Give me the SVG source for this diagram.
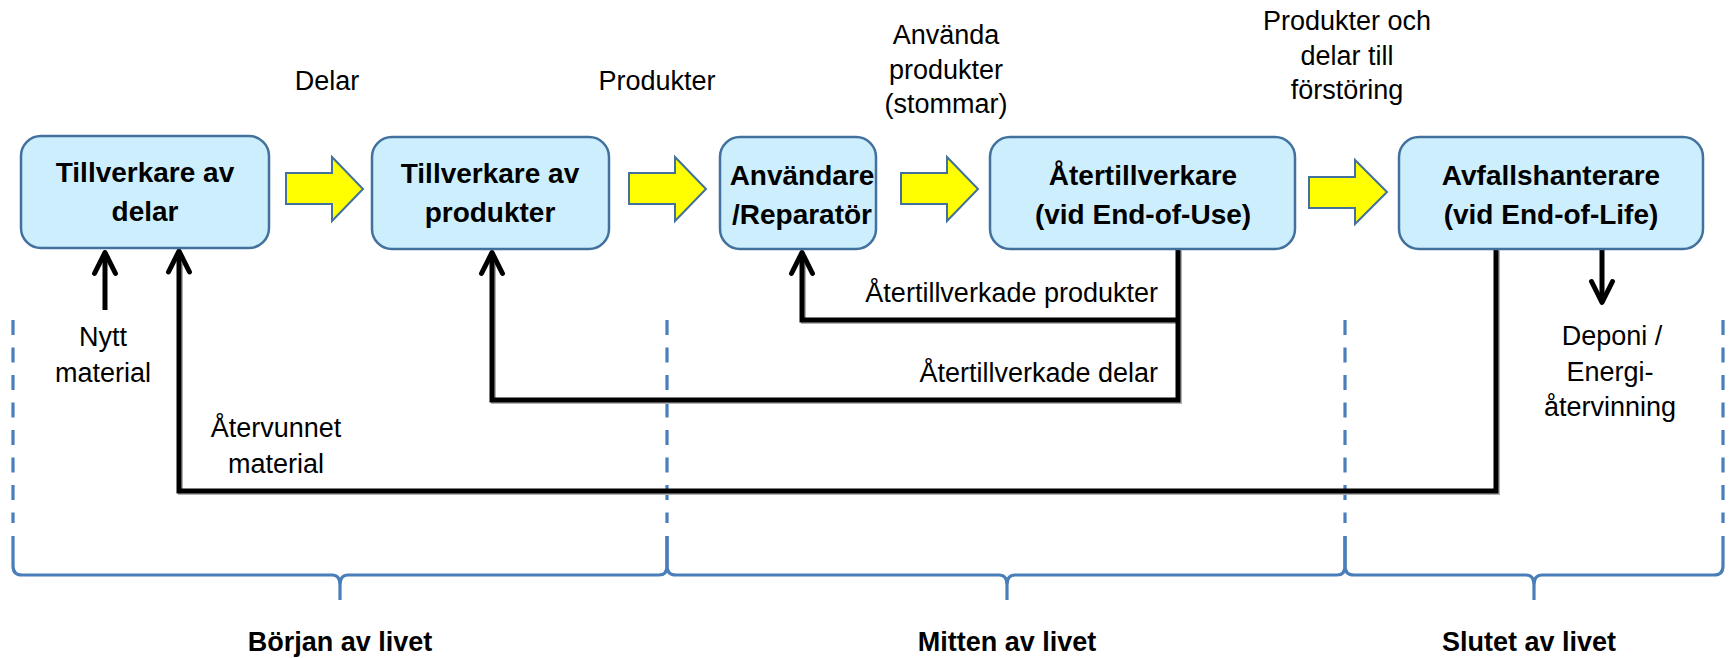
<svg xmlns="http://www.w3.org/2000/svg" width="1729" height="658" viewBox="0 0 1729 658">
<style>
  .box { fill: #CDEFFD; stroke: #41719C; stroke-width: 2.5; }
  .blk { fill: #FFFF00; stroke: #41719C; stroke-width: 2; stroke-linejoin: miter; }
  .bt { font-family: "Liberation Sans", Arial, sans-serif; font-weight: bold; font-size: 28px; fill: #000; text-anchor: middle; }
  .lt { font-family: "Liberation Sans", Arial, sans-serif; font-size: 27px; fill: #000; text-anchor: middle; }
  .ph { font-family: "Liberation Sans", Arial, sans-serif; font-weight: bold; font-size: 27px; fill: #000; text-anchor: middle; }
  .con { fill: none; stroke: #000; stroke-width: 5; stroke-linejoin: miter; }
  .shd { fill: none; stroke: #B0B0B0; stroke-width: 5; stroke-linejoin: miter; }
  .dash { fill: none; stroke: #4A7EBB; stroke-width: 3.2; stroke-dasharray: 15 12.5; }
  .brace { fill: none; stroke: #4A7EBB; stroke-width: 3.2; }
</style>
<defs>
  <marker id="chev" markerUnits="userSpaceOnUse" markerWidth="40" markerHeight="40" refX="0" refY="0" viewBox="-30 -20 40 40" orient="auto" overflow="visible">
    <path d="M-21,-10.5 L0,0 L-21,10.5" fill="none" stroke="#000" stroke-width="5" stroke-linejoin="round" stroke-linecap="round"/>
  </marker>
</defs>
<rect width="1729" height="658" fill="#FFFFFF"/>

<!-- phase separators -->
<g id="phases">
  <path class="dash" d="M13,320 V523 M667,320 V523 M1345,320 V523 M1723,320 V523"/>
  <path class="brace" d="M13,536 V566 Q13,575 22,575 H332 Q340,575 340,585 V600 M340,585 Q340,575 348,575 H659 Q667,575 667,566 V536"/>
  <path class="brace" d="M667,536 V566 Q667,575 676,575 H999 Q1007,575 1007,585 V600 M1007,585 Q1007,575 1015,575 H1337 Q1345,575 1345,566 V536"/>
  <path class="brace" d="M1345,536 V566 Q1345,575 1354,575 H1526 Q1534,575 1534,585 V600 M1534,585 Q1534,575 1542,575 H1714 Q1723,575 1723,566 V536"/>
  <text class="ph" x="340" y="651">Början av livet</text>
  <text class="ph" x="1007" y="651">Mitten av livet</text>
  <text class="ph" x="1529" y="651">Slutet av livet</text>
</g>

<!-- connectors -->
<g id="connectors">
  <g transform="translate(1.5,1.5)">
    <path class="shd" d="M1496,249 V491 H179 V262"/>
    <path class="shd" d="M1178,249 V400 H492 V262"/>
    <path class="shd" d="M1178,320 H802 V262"/>
  </g>
  <path class="con" d="M105,310 V252.5" marker-end="url(#chev)"/>
  <path class="con" d="M1496,249 V491 H179 V251" marker-end="url(#chev)"/>
  <path class="con" d="M1178,249 V400 H492 V252.5" marker-end="url(#chev)"/>
  <path class="con" d="M1178,320 H802 V252.5" marker-end="url(#chev)"/>
  <path class="con" d="M1602,249 V302.5" marker-end="url(#chev)"/>
  <path class="blk" d="M286,173 H332 V157 L363,189 L332,221 V204 H286 Z"/>
  <path class="blk" d="M629,173 H675 V157 L706,189 L675,221 V204 H629 Z"/>
  <path class="blk" d="M901,173 H947 V157 L978,189 L947,221 V204 H901 Z"/>
  <path class="blk" d="M1309,177 H1355 V160 L1387,192 L1355,224 V208 H1309 Z"/>
</g>

<!-- labels -->
<g id="labels">
  <text class="lt" x="327" y="90">Delar</text>
  <text class="lt" x="657" y="90">Produkter</text>
  <text class="lt" x="946" y="44">Använda</text>
  <text class="lt" x="946" y="79">produkter</text>
  <text class="lt" x="946" y="113">(stommar)</text>
  <text class="lt" x="1347" y="30">Produkter och</text>
  <text class="lt" x="1347" y="65">delar till</text>
  <text class="lt" x="1347" y="99">förstöring</text>
  <text class="lt" x="103" y="346">Nytt</text>
  <text class="lt" x="103" y="382">material</text>
  <text class="lt" x="276" y="437">Återvunnet</text>
  <text class="lt" x="276" y="473">material</text>
  <text class="lt" x="1158" y="302" style="text-anchor:end">Återtillverkade produkter</text>
  <text class="lt" x="1158" y="382" style="text-anchor:end">Återtillverkade delar</text>
  <text class="lt" x="1612" y="345">Deponi /</text>
  <text class="lt" x="1610" y="381">Energi-</text>
  <text class="lt" x="1610" y="416">återvinning</text>
</g>

<g id="node-delar">
  <rect class="box" x="21" y="136" width="248" height="112" rx="20"/>
  <text class="bt" x="145" y="182">Tillverkare av</text>
  <text class="bt" x="145" y="221">delar</text>
</g>
<g id="node-produkter">
  <rect class="box" x="372" y="137" width="237" height="112" rx="20"/>
  <text class="bt" x="490" y="183">Tillverkare av</text>
  <text class="bt" x="490" y="222">produkter</text>
</g>
<g id="node-anvandare">
  <rect class="box" x="720" y="137" width="156" height="112" rx="20"/>
  <text class="bt" x="802" y="185">Användare</text>
  <text class="bt" x="802" y="224">/Reparatör</text>
</g>
<g id="node-atertillverkare">
  <rect class="box" x="990" y="137" width="305" height="112" rx="20"/>
  <text class="bt" x="1143" y="185">Återtillverkare</text>
  <text class="bt" x="1143" y="224">(vid End-of-Use)</text>
</g>
<g id="node-avfall">
  <rect class="box" x="1399" y="137" width="304" height="112" rx="20"/>
  <text class="bt" x="1551" y="185">Avfallshanterare</text>
  <text class="bt" x="1551" y="224">(vid End-of-Life)</text>
</g>
</svg>
